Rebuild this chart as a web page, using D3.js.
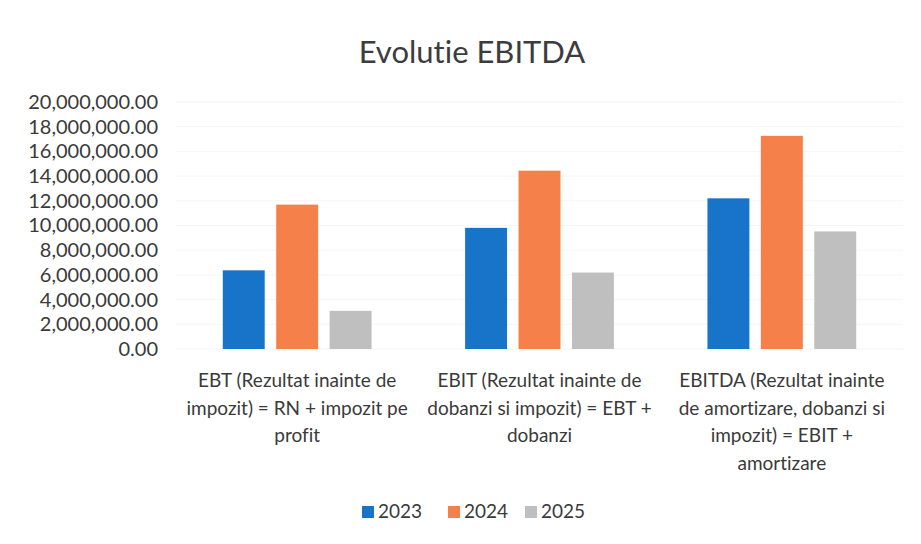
<!DOCTYPE html>
<html>
<head>
<meta charset="utf-8">
<script src="https://cdn.jsdelivr.net/npm/d3@7"></script>
<style>
  body { margin: 0; background: #fff; overflow: hidden; }
  svg { display: block; }
  svg text { font-family: Lato, "Open Sans", sans-serif; font-variant-ligatures: none; font-feature-settings: "liga" 0, "dlig" 0; }
</style>
</head>
<body>
<div id="chart"></div>
<script>

// categories, with the line breaks as they appear in the chart
var categories = [
  "EBT (Rezultat inainte de|impozit) = RN + impozit pe|profit",
  "EBIT (Rezultat inainte de|dobanzi si impozit) = EBT +|dobanzi",
  "EBITDA (Rezultat inainte|de amortizare, dobanzi si|impozit) = EBIT +|amortizare"
];
var years = ["2023", "2024", "2025"];
var values2023 = [6370000, 9810000, 12200000];
var values2024 = [11690000, 14440000, 17260000];
var values2025 = [3090000, 6190000, 9520000];
var yTicks = [0, 2000000, 4000000, 6000000, 8000000, 10000000, 12000000, 14000000, 16000000, 18000000, 20000000];

var colors = ["#1874c8", "#f5804a", "#bfbfbf"];
var seriesValues = [values2023, values2024, values2025];

var width = 921,
  height = 544,
  margin = {top: 102, right: 18, bottom: 195, left: 176},
  innerWidth = width - margin.left - margin.right,
  innerHeight = height - margin.top - margin.bottom;

var data = categories.map(function(c, i) {
  return {
    category: c,
    values: years.map(function(y, j) { return {year: y, value: seriesValues[j][i]}; })
  };
});

var svg = d3.select("#chart").append("svg")
  .attr("width", width)
  .attr("height", height);

svg.append("rect")
  .attr("width", width)
  .attr("height", height)
  .attr("fill", "#fff");

// title
svg.append("text")
  .attr("x", 472)
  .attr("y", 63)
  .attr("text-anchor", "middle")
  .attr("fill", "#3c3c3c")
  .style("font-size", "31px")
  .text("Evolutie EBITDA");

var g = svg.append("g")
  .attr("transform", "translate(" + margin.left + "," + margin.top + ")");

var x0 = d3.scaleBand()
  .domain(categories)
  .range([0, innerWidth])
  .paddingInner(0.386)
  .paddingOuter(0.193);

var x1 = d3.scaleBand()
  .domain(years)
  .range([0, x0.bandwidth()])
  .paddingInner(0.215)
  .paddingOuter(0);

var y = d3.scaleLinear()
  .domain([0, 20000000])
  .range([innerHeight, 0]);

// faint gridlines
g.append("g")
  .attr("class", "grid")
  .selectAll("line")
  .data(yTicks)
  .enter().append("line")
    .attr("x1", 0)
    .attr("x2", innerWidth)
    .attr("y1", function(d) { return y(d); })
    .attr("y2", function(d) { return y(d); })
    .attr("stroke", "#f5f5f5")
    .attr("stroke-width", 1);

// y axis
var fmt = d3.format(",.2f");
var yAxis = g.append("g")
  .attr("class", "y axis")
  .call(d3.axisLeft(y).tickValues(yTicks).tickFormat(fmt).tickSize(0).tickPadding(18))
  .attr("font-family", null)
  .attr("font-size", null);
yAxis.select(".domain").remove();
yAxis.selectAll("text")
  .attr("fill", "#3a3a3a")
  .style("font-size", "20px");

// bars
var groups = g.selectAll(".group")
  .data(data)
  .enter().append("g")
    .attr("class", "group")
    .attr("transform", function(d) { return "translate(" + x0(d.category) + ",0)"; });

groups.selectAll("rect")
  .data(function(d) { return d.values; })
  .enter().append("rect")
    .attr("x", function(d) { return x1(d.year); })
    .attr("y", function(d) { return y(d.value); })
    .attr("width", x1.bandwidth())
    .attr("height", function(d) { return innerHeight - y(d.value); })
    .attr("fill", function(d, i) { return colors[i]; });

// category labels
var xAxis = g.append("g")
  .attr("class", "x axis")
  .attr("transform", "translate(0," + innerHeight + ")");

xAxis.selectAll("text")
  .data(categories)
  .enter().append("text")
    .attr("x", function(d) { return x0(d) + x0.bandwidth() / 2; })
    .attr("y", 38)
    .attr("text-anchor", "middle")
    .attr("fill", "#3a3a3a")
    .style("font-size", "19px")
    .each(function(d) {
      var t = d3.select(this);
      d.split("|").forEach(function(line, i) {
        t.append("tspan")
          .attr("x", x0(d) + x0.bandwidth() / 2)
          .attr("dy", i === 0 ? 0 : 27.5)
          .text(line);
      });
    });

// legend
var legendX = [362, 448, 525];
var legend = svg.append("g").attr("class", "legend");
years.forEach(function(yr, i) {
  var item = legend.append("g")
    .attr("transform", "translate(" + legendX[i] + ",506)");
  item.append("rect")
    .attr("width", 12)
    .attr("height", 12)
    .attr("fill", colors[i]);
  item.append("text")
    .attr("x", 16)
    .attr("y", 12)
    .attr("fill", "#3a3a3a")
    .style("font-size", "19px")
    .text(yr);
});

</script>
</body>
</html>
